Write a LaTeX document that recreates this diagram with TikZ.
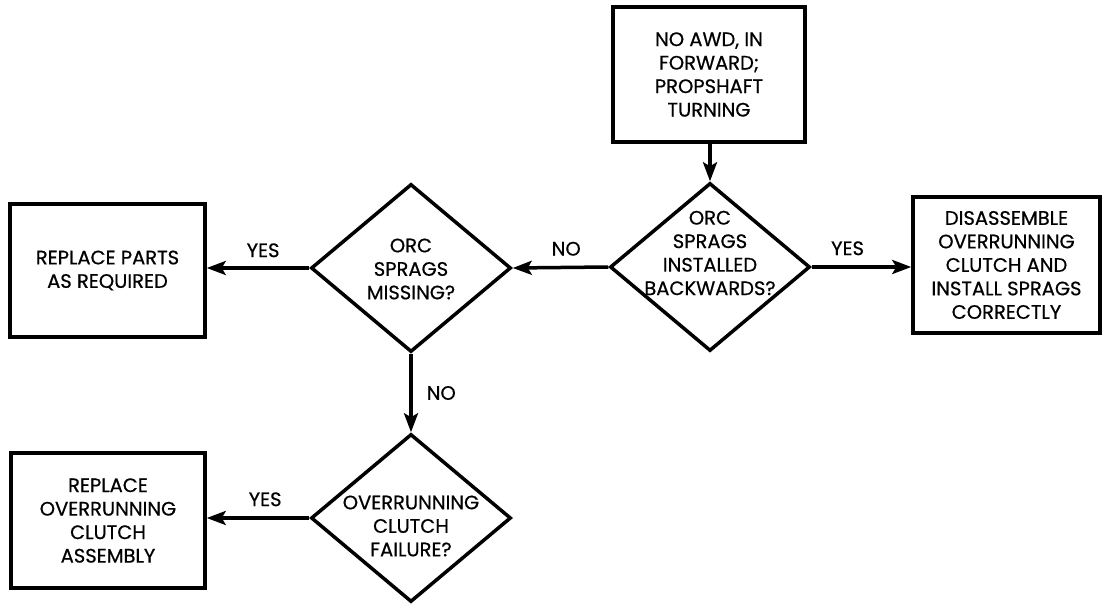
\documentclass[tikz,border=0pt]{standalone}
\usepackage{fontspec}
\setmainfont{Poppins}[FakeBold=0.6]
\usetikzlibrary{shapes.geometric,arrows.meta}
\newcommand\flowfont{\fontsize{19.5}{23.5}\selectfont}
\begin{document}
\begin{tikzpicture}[x=1pt,y=-1pt,
  box/.style={draw, line width=3.5pt, rectangle, inner sep=0pt, align=center, font=\flowfont},
  dia/.style={draw, line width=3.5pt, diamond, inner sep=0pt, minimum width=200pt, minimum height=168pt},
  dtext/.style={align=center, font=\flowfont, inner sep=0pt},
  conn/.style={line width=3.5pt, -{Stealth[length=19pt,width=14pt,inset=4pt]}},
  lbl/.style={font=\flowfont, inner sep=0pt}]
\useasboundingbox (0,0) rectangle (1102,604);
\node[box, minimum width=192pt, minimum height=135pt] (start) at (709,74.5) {NO AWD, IN\\FORWARD;\\PROPSHAFT\\TURNING};
\node[dia] (d1) at (710,267) {};
\node[dtext] (t1) at (710,253) {ORC\\SPRAGS\\INSTALLED\\BACKWARDS?};
\node[box, minimum width=187pt, minimum height=136pt] (fix1) at (1006.5,265) {DISASSEMBLE\\OVERRUNNING\\CLUTCH AND\\INSTALL SPRAGS\\CORRECTLY};
\node[dia] (d2) at (411,268) {};
\node[dtext] (t2) at (411,269) {ORC\\SPRAGS\\MISSING?};
\node[box, minimum width=195pt, minimum height=133pt] (fix2) at (107.5,270.5) {REPLACE PARTS\\AS REQUIRED};
\node[dia] (d3) at (411,518) {};
\node[dtext] (t3) at (411,526) {OVERRUNNING\\CLUTCH\\FAILURE?};
\node[box, minimum width=194pt, minimum height=135pt] (fix3) at (108,520.5) {REPLACE\\OVERRUNNING\\CLUTCH\\ASSEMBLY};
\draw[conn] (d1.north |- start.south) -- (d1.north);
\draw[conn] (d1.west) -- node[lbl, pos=0.44, above=10pt] (l1) {NO} (d2.east);
\draw[conn] (d1.east) -- node[lbl, pos=0.36, above=10pt] (l2) {YES} (d1.east -| fix1.west);
\draw[conn] (d2.west) -- node[lbl, pos=0.45, above=9pt] (l3) {YES} (d2.west -| fix2.east);
\draw[conn] (d2.south) -- node[lbl, pos=0.5, right=14pt] (l4) {NO} (d3.north);
\draw[conn] (d3.west) -- node[lbl, pos=0.43, above=10pt] (l5) {YES} (d3.west -| fix3.east);
\end{tikzpicture}
\end{document}
